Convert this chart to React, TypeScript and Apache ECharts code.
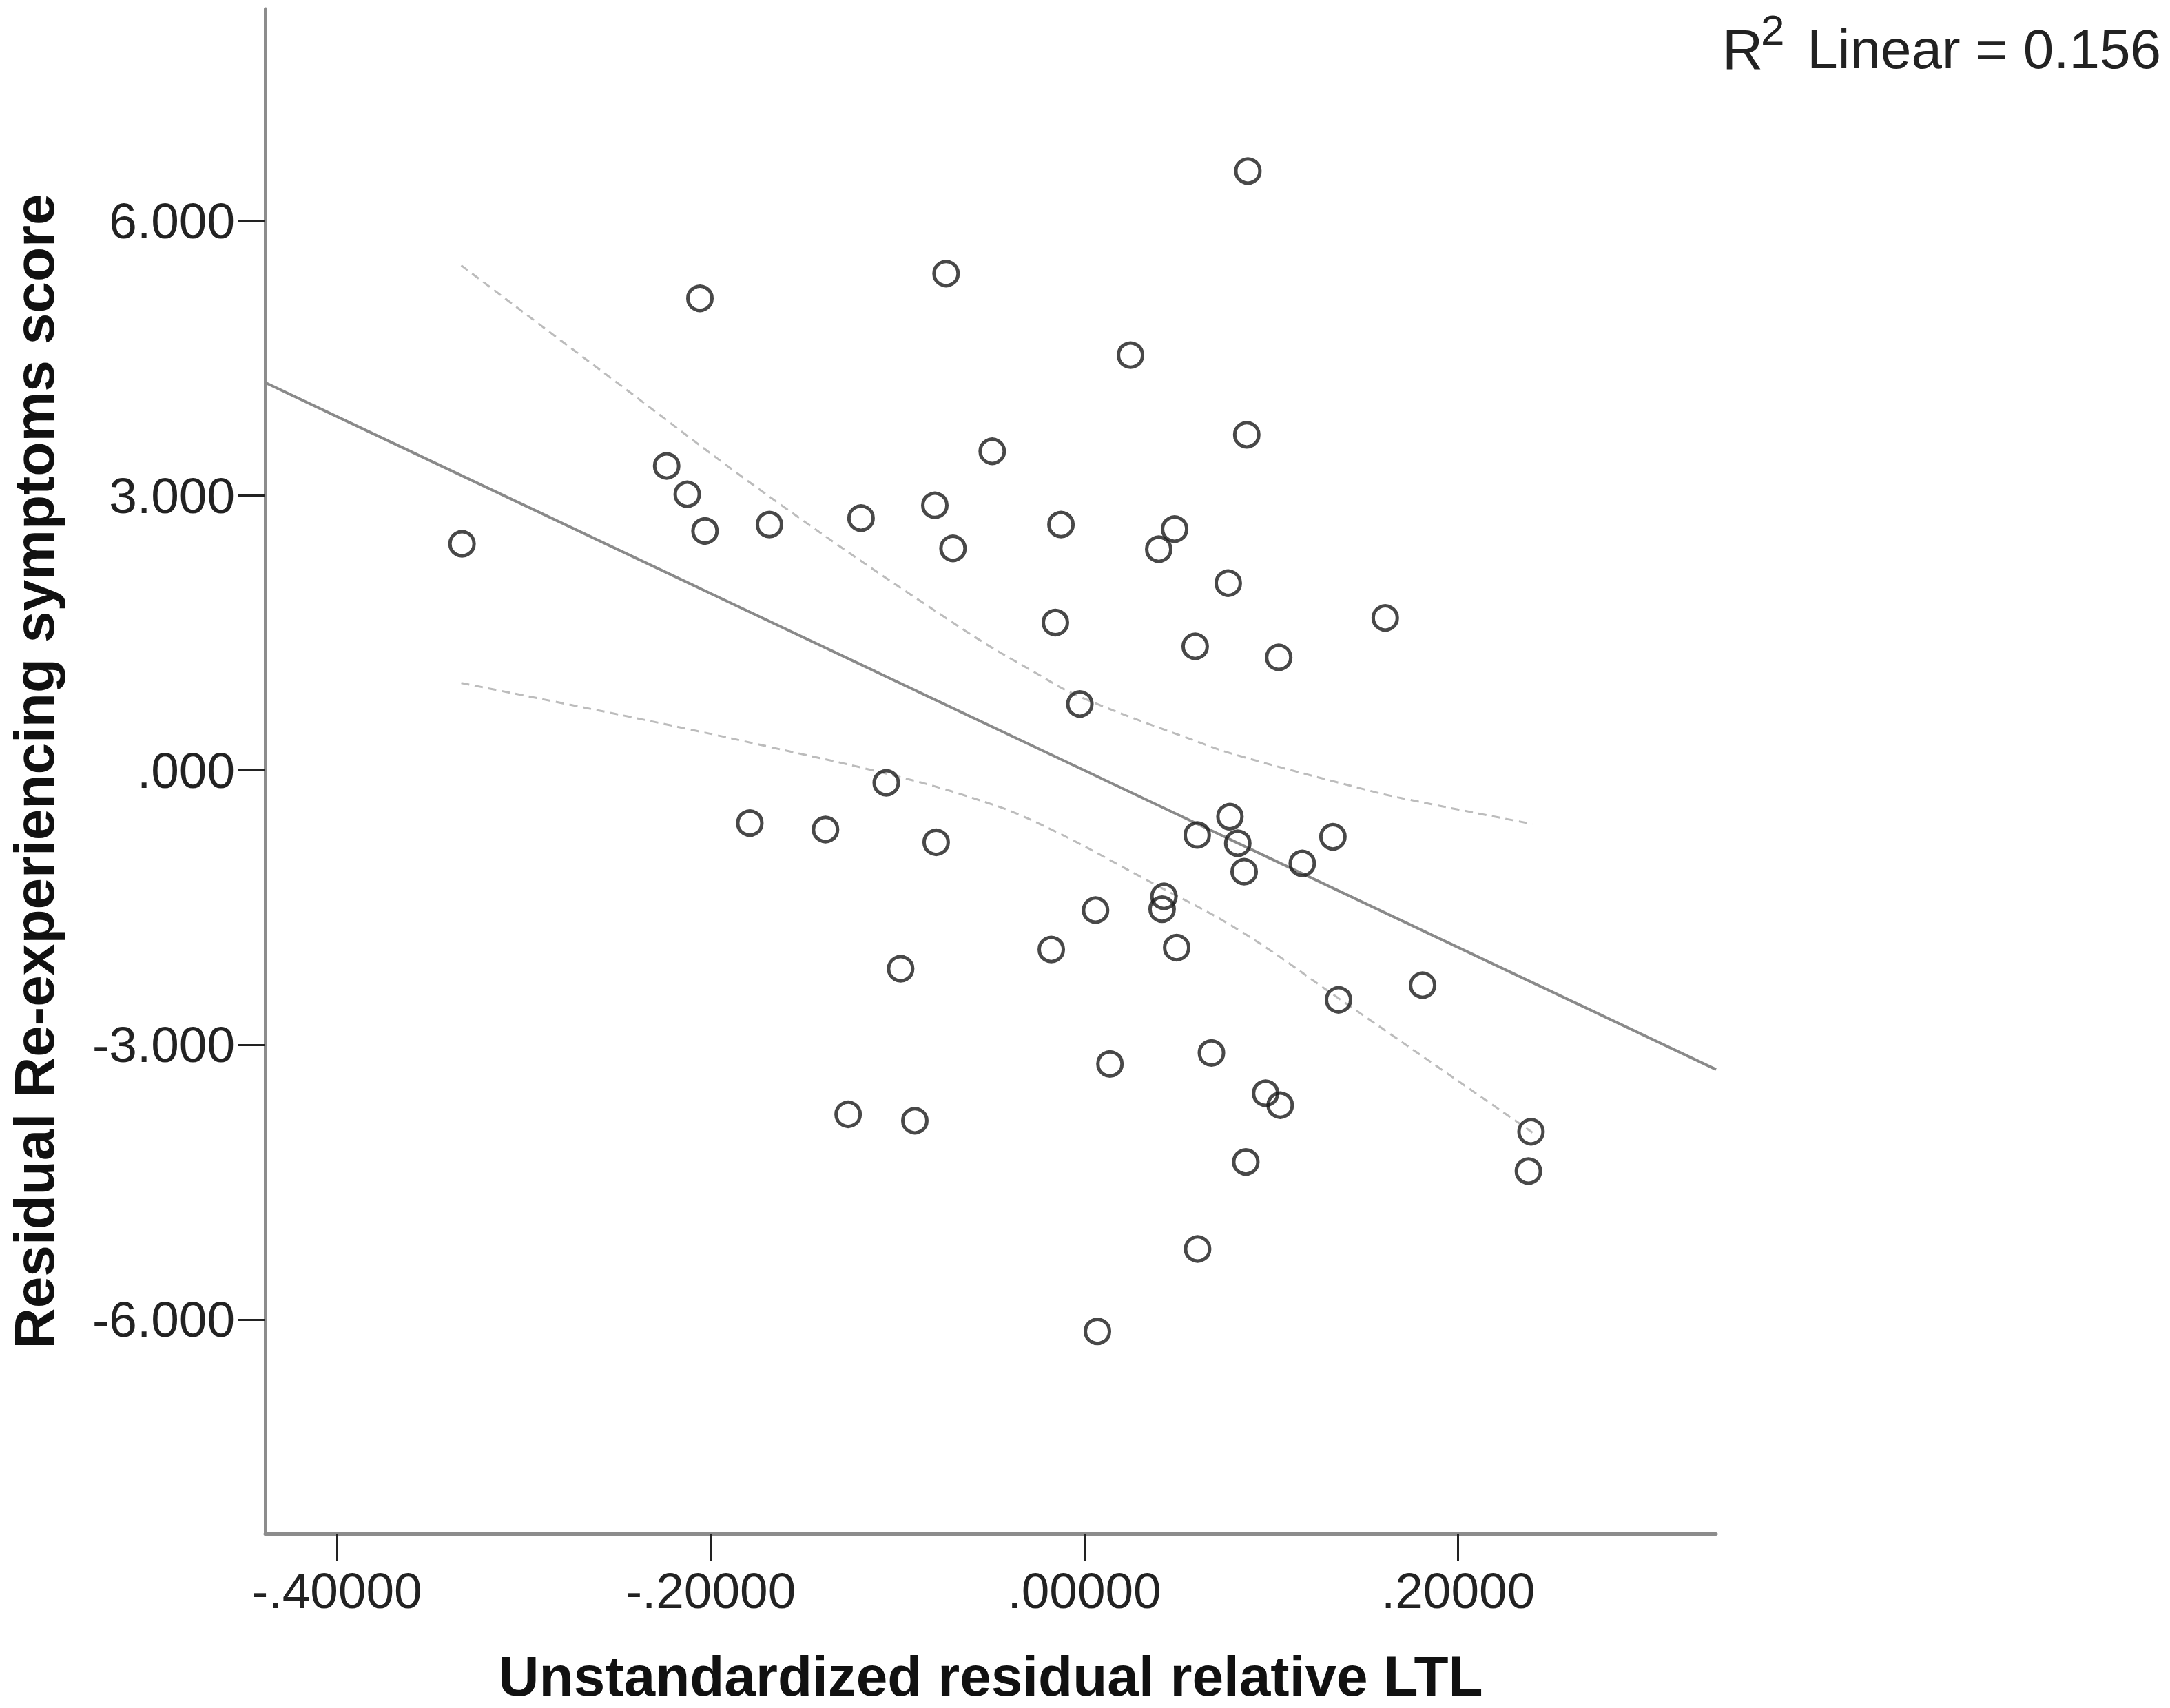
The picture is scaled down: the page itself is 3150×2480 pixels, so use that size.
import React, { useEffect, useRef } from "react";
import * as echarts from "echarts";

// ---- axis settings ----
const xTicks = [-0.4, -0.2, 0, 0.2];
const yTicks = [-6, -3, 0, 3, 6];
const xMin = -0.4383;
const xMax = 0.338;
const yMin = -8.34;
const yMax = 8.31;

const xTitle = "Unstandardized residual relative LTL";
const yTitle = "Residual Re-experiencing symptoms score";
const r2Main = "R";
const r2Sup = "2";
const r2Rest = "Linear = 0.156";

// ---- observed points ----
const residualLTL = [
  -0.333, -0.2057, -0.074, -0.2235, -0.2125, -0.203, -0.1685, -0.1195, -0.08, -0.0703,
  -0.0493, 0.0875, 0.0247, 0.0869, -0.0125, 0.0483, 0.0398, 0.077, 0.161, -0.0155,
  0.0593, 0.104, -0.0024, -0.106, -0.179, -0.1385, -0.0793, -0.0983, -0.1264, -0.0907,
  0.0779, 0.0604, 0.0821, 0.0855, 0.133, 0.1166, 0.0426, 0.0416, 0.006, -0.0177,
  0.0494, 0.181, 0.136, 0.0137, 0.068, 0.097, 0.1048, 0.239, 0.2376, 0.0864,
  0.0606, 0.007,
];
const residualScore = [
  2.47, 5.15, 5.42, 3.32, 3.01, 2.61, 2.68, 2.75, 2.89, 2.42,
  3.48, 6.54, 4.53, 3.66, 2.68, 2.63, 2.41, 2.04, 1.66, 1.61,
  1.35, 1.23, 0.72, -0.14, -0.58, -0.65, -0.79, -2.17, -3.76, -3.83,
  -0.51, -0.71, -0.8, -1.11, -0.73, -1.02, -1.38, -1.52, -1.53, -1.96,
  -1.94, -2.35, -2.51, -3.21, -3.09, -3.53, -3.66, -3.95, -4.38, -4.28,
  -5.23, -6.13,
];

// ---- fit line (ends read at the axis edges) ----
const fitX = [-0.4383, 0.338];
const fitY = [4.23, -3.27];

// ---- confidence band curves ----
const ciUpperX = [-0.3334, -0.2527, -0.162, -0.0637, -0.0269, -0.0024, 0.063, 0.0836, 0.1477, 0.168, 0.2398];
const ciUpperY = [5.51, 4.27, 2.89, 1.52, 1.07, 0.8, 0.29, 0.15, -0.2, -0.3, -0.59];
const ciLowerX = [-0.3334, -0.2527, -0.2104, -0.168, -0.106, -0.0637, -0.0269, 0.0378, 0.0836, 0.1365, 0.23, 0.2398];
const ciLowerY = [0.95, 0.62, 0.44, 0.25, -0.04, -0.28, -0.56, -1.25, -1.76, -2.5, -3.82, -3.96];

const FONT = "'Liberation Sans', Arial, sans-serif";

const zip = (xs: number[], ys: number[]) => xs.map((x, i) => [x, ys[i]]);

const fmtX = (v: number) => {
  const s = Math.abs(v).toFixed(5).replace(/^0/, "");
  return (v < 0 ? "-" : "") + s;
};
const fmtY = (v: number) => {
  const s = Math.abs(v).toFixed(3).replace(/^0/, "");
  return (v < 0 ? "-" : "") + s;
};

export default function App() {
  const ref = useRef<HTMLDivElement>(null);

  useEffect(() => {
    if (!ref.current) return;
    const chart = echarts.init(ref.current, undefined, { renderer: "svg" });

    const axisLine = { show: true, onZero: false, lineStyle: { color: "#8c8c8c", width: 5 } };
    const axisTick = { show: true, length: 40, lineStyle: { color: "#222", width: 3 } };

    chart.setOption({
      animation: false,
      backgroundColor: "#ffffff",
      grid: { left: 383, top: 13, right: 659, bottom: 253, containLabel: false },
      xAxis: {
        type: "value",
        min: xMin,
        max: xMax,
        axisLine,
        axisTick: { ...axisTick, customValues: xTicks },
        splitLine: { show: false },
        axisLabel: {
          customValues: xTicks,
          formatter: (v: number) => fmtX(v),
          fontFamily: FONT,
          fontSize: 73,
          color: "#222",
          margin: 46,
        },
        name: xTitle,
        nameLocation: "middle",
        nameGap: 165,
        nameTextStyle: { fontFamily: FONT, fontSize: 82, fontWeight: "bold", color: "#111" },
      },
      yAxis: {
        type: "value",
        min: yMin,
        max: yMax,
        axisLine,
        axisTick: { ...axisTick, customValues: yTicks },
        splitLine: { show: false },
        axisLabel: {
          customValues: yTicks,
          formatter: (v: number) => fmtY(v),
          fontFamily: FONT,
          fontSize: 73,
          color: "#222",
          margin: 44,
        },
        name: yTitle,
        nameLocation: "middle",
        nameGap: 295,
        nameTextStyle: { fontFamily: FONT, fontSize: 82, fontWeight: "bold", color: "#111" },
      },
      graphic: [
        {
          type: "text",
          left: 2500,
          top: 30,
          style: { text: r2Main, fontFamily: FONT, fontSize: 82, fill: "#222" },
        },
        {
          type: "text",
          left: 2556,
          top: 12,
          style: { text: r2Sup, fontFamily: FONT, fontSize: 62, fill: "#222" },
        },
        {
          type: "text",
          right: 13,
          top: 31,
          style: { text: r2Rest, fontFamily: FONT, fontSize: 80, fill: "#222" },
        },
      ],
      series: [
        {
          type: "line",
          data: zip(fitX, fitY),
          symbol: "none",
          lineStyle: { color: "#8a8a8a", width: 4 },
          z: 2,
        },
        {
          type: "line",
          data: zip(ciUpperX, ciUpperY),
          symbol: "none",
          smooth: 0.4,
          lineStyle: { color: "#bcbcbc", width: 3, type: [12, 8] },
          z: 2,
        },
        {
          type: "line",
          data: zip(ciLowerX, ciLowerY),
          symbol: "none",
          smooth: 0.4,
          lineStyle: { color: "#bcbcbc", width: 3, type: [12, 8] },
          z: 2,
        },
        {
          type: "scatter",
          data: zip(residualLTL, residualScore),
          symbol: "circle",
          symbolSize: 35,
          itemStyle: { color: "rgba(0,0,0,0)", borderColor: "#1a1a1a", borderWidth: 5 },
          z: 3,
        },
      ],
    });

    return () => chart.dispose();
  }, []);

  return (
    <div
      ref={ref}
      style={{ position: "absolute", left: 0, top: 0, width: 3150, height: 2480, background: "#fff" }}
    />
  );
}
